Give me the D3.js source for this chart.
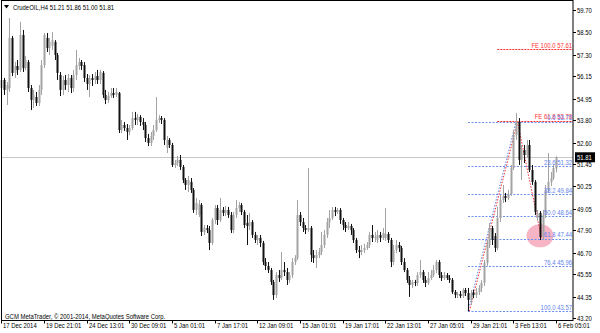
<!DOCTYPE html>
<html>
<head>
<meta charset="utf-8">
<script src="https://cdn.jsdelivr.net/npm/d3@7"></script>
<style>
  body { margin: 0; background: #fff; }
  svg text { font-family: "Liberation Sans", Arial, sans-serif; font-size: 7px; }
</style>
</head>
<body>
<svg id="chart" width="600" height="333"></svg>
<script>
// CrudeOIL H4 bars, 17 Dec 2014 .. 6 Feb 2015
var opens = [
  55.52,55.95,55.42,55.52,58.20,56.33,56.70,56.49,58.36,56.59,
  56.91,55.52,54.88,55.04,54.72,55.42,56.75,58.20,57.66,57.77,
  57.99,57.29,56.22,55.42,55.95,55.68,56.06,55.52,56.22,56.70,
  56.91,56.75,56.06,55.74,56.06,55.95,56.16,55.95,56.33,55.15,
  54.88,55.09,55.25,55.15,55.25,53.27,53.54,53.38,53.17,53.38,
  53.91,53.81,53.97,53.70,53.54,52.84,52.58,52.95,53.27,53.81,
  53.91,53.81,52.31,52.74,52.47,51.40,51.50,51.67,51.29,50.59,
  50.33,50.49,50.06,48.99,48.72,49.25,47.81,48.02,47.91,47.22,
  48.45,49.09,48.45,48.99,48.83,48.99,48.72,47.91,48.72,49.09,
  49.25,48.88,48.29,48.13,48.34,47.65,47.38,47.49,47.22,46.20,
  45.99,45.77,45.13,44.43,45.50,45.34,45.77,45.66,45.24,45.50,
  46.20,46.41,48.72,48.34,48.02,47.91,48.02,46.57,46.41,46.57,
  46.74,47.11,47.65,48.34,48.56,48.99,48.88,48.99,48.45,48.18,
  48.02,48.13,47.91,47.38,46.84,46.74,46.84,46.95,47.11,47.65,
  47.49,47.38,47.65,47.49,47.49,47.70,47.38,46.20,46.84,47.11,
  46.95,46.20,45.77,45.24,44.97,45.13,45.08,45.50,45.66,45.24,
  45.08,45.34,45.50,45.77,46.20,45.50,45.34,45.50,45.34,45.24,
  44.59,44.43,44.49,44.38,44.70,44.54,44.17,44.54,44.43,44.59,
  44.81,45.08,46.15,47.11,48.02,47.59,46.95,48.56,49.52,49.74,
  49.63,49.84,51.24,53.00,53.70,51.67,52.20,51.93,52.47,51.13,
  50.49,48.56,48.83,47.54,48.72,50.06,50.49,50.70,51.21
];
var highs = [
  56.22,56.06,55.84,59.27,58.31,56.91,57.02,59.06,58.63,57.24,
  57.02,55.68,55.42,55.31,55.68,57.02,58.47,58.47,58.20,58.52,
  58.09,57.40,56.38,56.16,56.22,56.27,56.22,56.49,57.56,57.13,
  57.02,56.91,56.27,56.22,56.27,56.38,56.49,56.49,56.43,55.42,
  55.31,55.52,55.52,55.52,55.31,53.81,53.70,53.59,53.54,54.24,
  54.24,54.13,54.07,53.91,53.70,53.06,53.17,53.54,55.04,54.07,
  54.02,53.91,52.95,52.84,52.58,51.67,51.88,51.93,51.40,50.70,
  50.81,50.70,50.16,49.63,49.52,49.36,48.18,48.18,48.13,48.56,
  49.25,49.25,49.63,49.15,49.20,49.15,48.88,48.88,49.52,49.41,
  49.36,48.99,48.72,48.83,48.45,47.81,47.65,47.65,47.33,46.41,
  46.20,45.88,45.24,45.66,45.77,46.74,46.20,45.88,45.66,46.41,
  46.57,49.52,48.88,48.56,48.18,51.24,48.13,46.84,46.84,46.95,
  47.81,47.91,48.56,48.99,49.15,49.15,49.09,49.09,48.56,48.34,
  48.34,48.24,48.02,47.49,47.06,47.11,47.17,47.27,47.81,48.18,
  47.81,47.91,47.81,48.02,49.09,47.81,47.49,47.11,47.38,47.27,
  47.06,46.41,45.88,45.45,45.24,45.24,45.66,46.31,45.77,45.45,
  45.66,45.77,46.04,46.31,46.31,45.66,45.66,45.61,45.50,45.34,
  44.70,44.59,44.65,44.81,44.81,44.81,44.70,44.70,44.81,44.97,
  45.24,46.31,47.38,48.29,48.13,47.75,49.15,49.79,50.33,49.90,
  50.06,51.40,53.27,54.18,53.91,52.47,52.47,52.74,52.74,51.40,
  50.59,48.99,48.93,48.99,50.33,52.04,51.02,51.40,51.86
];
var lows = [
  55.04,55.15,54.61,55.31,56.16,56.06,56.22,56.38,56.38,56.49,
  55.31,54.34,54.45,54.56,54.56,55.15,56.59,57.45,57.29,57.56,
  57.02,55.95,55.09,55.15,55.42,55.31,55.25,55.31,55.95,56.49,
  56.49,55.84,55.42,55.04,55.63,55.74,55.74,55.74,54.99,54.66,
  54.72,54.99,54.99,55.04,53.11,53.11,53.22,52.74,53.00,53.27,
  53.54,53.54,53.49,53.27,52.63,52.41,52.41,52.74,53.17,53.65,
  53.59,52.47,52.04,52.31,51.29,51.24,51.34,51.13,50.43,50.06,
  49.95,49.90,48.83,48.72,48.61,47.59,47.65,47.75,46.84,47.11,
  48.24,48.18,48.34,48.66,48.66,48.56,47.75,47.75,48.56,48.88,
  48.72,48.02,47.11,47.91,47.49,47.22,47.11,47.00,46.04,45.77,
  45.61,44.97,44.17,44.27,45.13,45.24,45.45,44.97,45.08,45.34,
  46.04,46.31,48.13,47.81,47.70,47.81,46.20,46.15,45.88,46.41,
  46.57,46.95,47.49,48.02,48.45,48.66,48.77,48.24,47.91,47.81,
  47.91,47.65,47.22,46.68,46.41,46.57,46.68,46.84,46.95,47.27,
  47.27,47.22,47.27,47.38,47.33,47.22,45.93,46.04,46.68,46.74,
  46.04,45.66,45.08,44.33,44.81,44.91,44.91,45.34,45.08,44.86,
  44.97,45.24,45.40,45.61,45.34,45.18,45.24,45.24,45.08,44.49,
  44.27,44.27,44.27,44.27,44.38,43.57,43.90,44.27,44.27,44.43,
  44.59,44.91,45.99,46.95,47.11,46.74,46.84,48.34,49.36,49.41,
  49.52,49.74,51.13,52.74,51.40,50.59,51.50,51.77,51.02,50.33,
  48.72,48.40,47.38,47.38,48.56,49.90,50.27,50.59,51.00
];
var closes = [
  55.95,55.42,55.68,58.20,56.33,56.70,56.49,58.36,56.59,57.02,
  55.52,54.88,55.15,54.72,55.42,56.75,58.36,57.66,57.99,58.09,
  57.29,56.33,55.42,55.95,55.68,56.06,55.52,56.22,56.75,56.91,
  56.70,56.06,55.74,56.06,55.95,56.16,55.95,56.38,55.15,54.88,
  55.09,55.25,55.15,55.31,53.27,53.54,53.38,53.17,53.38,53.91,
  53.81,53.97,53.70,53.54,52.84,52.58,52.95,53.27,53.81,53.91,
  53.81,52.74,52.74,52.47,51.40,51.50,51.67,51.29,50.59,50.33,
  50.59,50.06,48.99,49.36,49.31,47.81,48.02,47.91,47.22,48.45,
  49.09,48.45,48.99,48.83,48.99,48.72,47.91,48.72,49.09,49.25,
  48.88,48.18,48.13,48.34,47.65,47.38,47.49,47.22,46.20,45.99,
  45.77,45.13,44.43,45.50,45.34,45.77,45.66,45.24,45.50,46.20,
  46.41,48.72,48.34,48.02,47.91,48.02,46.57,46.41,46.57,46.74,
  47.11,47.65,48.34,48.56,48.99,48.88,48.99,48.45,48.18,48.02,
  48.13,47.91,47.38,46.84,46.74,46.84,46.95,47.11,47.65,47.49,
  47.54,47.65,47.49,47.75,47.70,47.38,46.20,46.84,47.11,46.95,
  46.20,45.77,45.24,44.97,45.13,45.08,45.50,45.66,45.24,45.08,
  45.34,45.50,45.77,46.20,45.50,45.34,45.50,45.34,45.24,44.59,
  44.43,44.49,44.38,44.70,44.54,44.17,44.54,44.43,44.59,44.81,
  45.08,46.15,47.11,48.02,47.38,46.95,48.56,49.52,49.74,49.63,
  49.84,51.24,53.00,53.70,51.67,52.20,51.93,52.47,51.13,50.49,
  48.88,48.83,47.54,48.72,50.06,50.49,50.70,51.24,51.81
];

var priceTicks = [59.70,58.50,57.30,56.15,54.95,53.80,52.60,51.45,50.25,49.05,47.90,46.70,45.55,44.35,43.20];
var timeLabels = ["17 Dec 2014","19 Dec 21:01","24 Dec 13:01","30 Dec 09:01","5 Jan 01:01","7 Jan 17:01",
  "12 Jan 09:01","15 Jan 01:01","19 Jan 17:01","22 Jan 13:01","27 Jan 05:01","29 Jan 21:01","3 Feb 13:01","6 Feb 05:01"];
var barsPerLabel = 16;

// fibo retracement (blue) and fibo expansion (red)
var fibLevels = [0.0, 23.6, 38.2, 50.0, 61.8, 76.4, 100.0];
var fibPrices = [53.71, 51.32, 49.84, 48.64, 47.44, 45.96, 43.57];
var feLevels = [61.8, 100.0];
var fePrices = [53.78, 57.61];
var swingBars = [175, 193, 202];        // A, B, C points of the fibo objects
var swingPrices = [43.57, 53.71, 47.47];

var title = "CrudeOIL,H4  51.21 51.86 51.00 51.81";
var copyright = "GCM MetaTrader, \u00a9 2001-2014, MetaQuotes Software Corp.";
var lastPrice = 51.81;

var svg = d3.select("#chart");
var W = 600, H = 333;
var right = 573, bottom = 320.5;

var x = d3.scaleLinear().domain([0, 208]).range([1.3, 556]);
var y = d3.scaleLinear().domain([43.20, 59.70]).range([318, 10]);

var bars = opens.map(function(o, i) {
  return { i: i, o: o, h: highs[i], l: lows[i], c: closes[i] };
});

// MT4 font is narrow, squeeze the text a bit
function label(px, py, str, fill, anchor) {
  return svg.append("text")
    .attr("transform", "translate(" + px + "," + py + ") scale(0.85,1)")
    .attr("text-anchor", anchor || "start")
    .attr("fill", fill)
    .text(str);
}

svg.append("rect").attr("width", W).attr("height", H).attr("fill", "#fff");

// bid line
svg.append("line")
  .attr("x1", 2).attr("x2", right)
  .attr("y1", Math.round(y(lastPrice)) + 0.5).attr("y2", Math.round(y(lastPrice)) + 0.5)
  .attr("stroke", "#c8c8c8").attr("stroke-width", 1);

// highlight circle at the 61.8 retracement
svg.append("ellipse")
  .attr("cx", x(swingBars[2])).attr("cy", y(47.6))
  .attr("rx", 13.5).attr("ry", 11.5)
  .attr("fill", "#f6b4c4");

// fib lines
var fibG = svg.append("g");
fibPrices.forEach(function(p) {
  var yy = Math.round(y(p)) + 0.5;
  fibG.append("line")
    .attr("x1", x(swingBars[0])).attr("x2", right)
    .attr("y1", yy).attr("y2", yy)
    .attr("stroke", "#6d8ff0").attr("stroke-width", 1)
    .attr("stroke-dasharray", "2,1.5");
});
fePrices.forEach(function(p) {
  var yy = Math.round(y(p)) + 0.5;
  fibG.append("line")
    .attr("x1", x(186)).attr("x2", right)
    .attr("y1", yy).attr("y2", yy)
    .attr("stroke", "#ff3030").attr("stroke-width", 1)
    .attr("stroke-dasharray", "2,1");
});

// trend lines of the fibo objects
fibG.append("line")
  .attr("x1", x(swingBars[0])).attr("y1", y(swingPrices[0]))
  .attr("x2", x(swingBars[1])).attr("y2", y(swingPrices[1]))
  .attr("stroke", "#6d8ff0").attr("stroke-dasharray", "1.5,1.5");
fibG.append("polyline")
  .attr("points", swingBars.map(function(b, k) { return (x(b) + 1.5) + "," + y(swingPrices[k]); }).join(" "))
  .attr("fill", "none")
  .attr("stroke", "#ff3030").attr("stroke-dasharray", "1.5,1.5");

// candles
var cg = svg.append("g");
bars.forEach(function(b) {
  var up = b.c >= b.o;
  var col = up ? "#a3a3a3" : "#111";
  var cx = Math.round(x(b.i));
  cg.append("rect")
    .attr("x", cx).attr("width", 1)
    .attr("y", y(b.h)).attr("height", Math.max(1, y(b.l) - y(b.h)))
    .attr("fill", col);
  var top = y(Math.max(b.o, b.c)), bot = y(Math.min(b.o, b.c));
  cg.append("rect")
    .attr("x", cx - 0.5).attr("width", 2)
    .attr("y", top).attr("height", Math.max(1, bot - top))
    .attr("fill", col);
});

// fib labels (blue 0.0 sits on top of the red FE 61.8, as in the terminal)
fePrices.forEach(function(p, k) {
  label(572, y(p) - 1.5, "FE " + feLevels[k].toFixed(1) + " " + p.toFixed(2), "#ff3030", "end");
});
fibPrices.forEach(function(p, k) {
  label(572, y(p) - 1.5, fibLevels[k].toFixed(1) + " " + p.toFixed(2), "#5f82ee", "end");
});

// frame
svg.append("rect")
  .attr("x", 1.5).attr("y", 0.5)
  .attr("width", right - 1.5).attr("height", bottom - 0.5)
  .attr("fill", "none").attr("stroke", "#000").attr("stroke-width", 1);

// price axis
priceTicks.forEach(function(p) {
  var yy = Math.round(y(p)) + 0.5;
  svg.append("line").attr("x1", right).attr("x2", right + 3)
    .attr("y1", yy).attr("y2", yy).attr("stroke", "#000");
  label(right + 4, yy + 2.5, p.toFixed(2), "#000");
});

// last price box
var ly = y(lastPrice);
svg.append("rect").attr("x", 575).attr("y", ly - 5).attr("width", 20).attr("height", 10).attr("fill", "#000");
label(577, ly + 2.5, lastPrice.toFixed(2), "#fff");

// time axis
timeLabels.forEach(function(t, k) {
  var tx = Math.round(x(k * barsPerLabel)) + 0.5;
  svg.append("line").attr("x1", tx).attr("x2", tx)
    .attr("y1", bottom).attr("y2", bottom + 3).attr("stroke", "#000");
  label(tx + 1.5, 328, t, "#000");
});

// header and footer
svg.append("path").attr("d", "M4,5 L9,5 L6.5,8.5 Z").attr("fill", "#000");
label(13, 10, title, "#000");
label(5, 318.5, copyright, "#000");
</script>
</body>
</html>
